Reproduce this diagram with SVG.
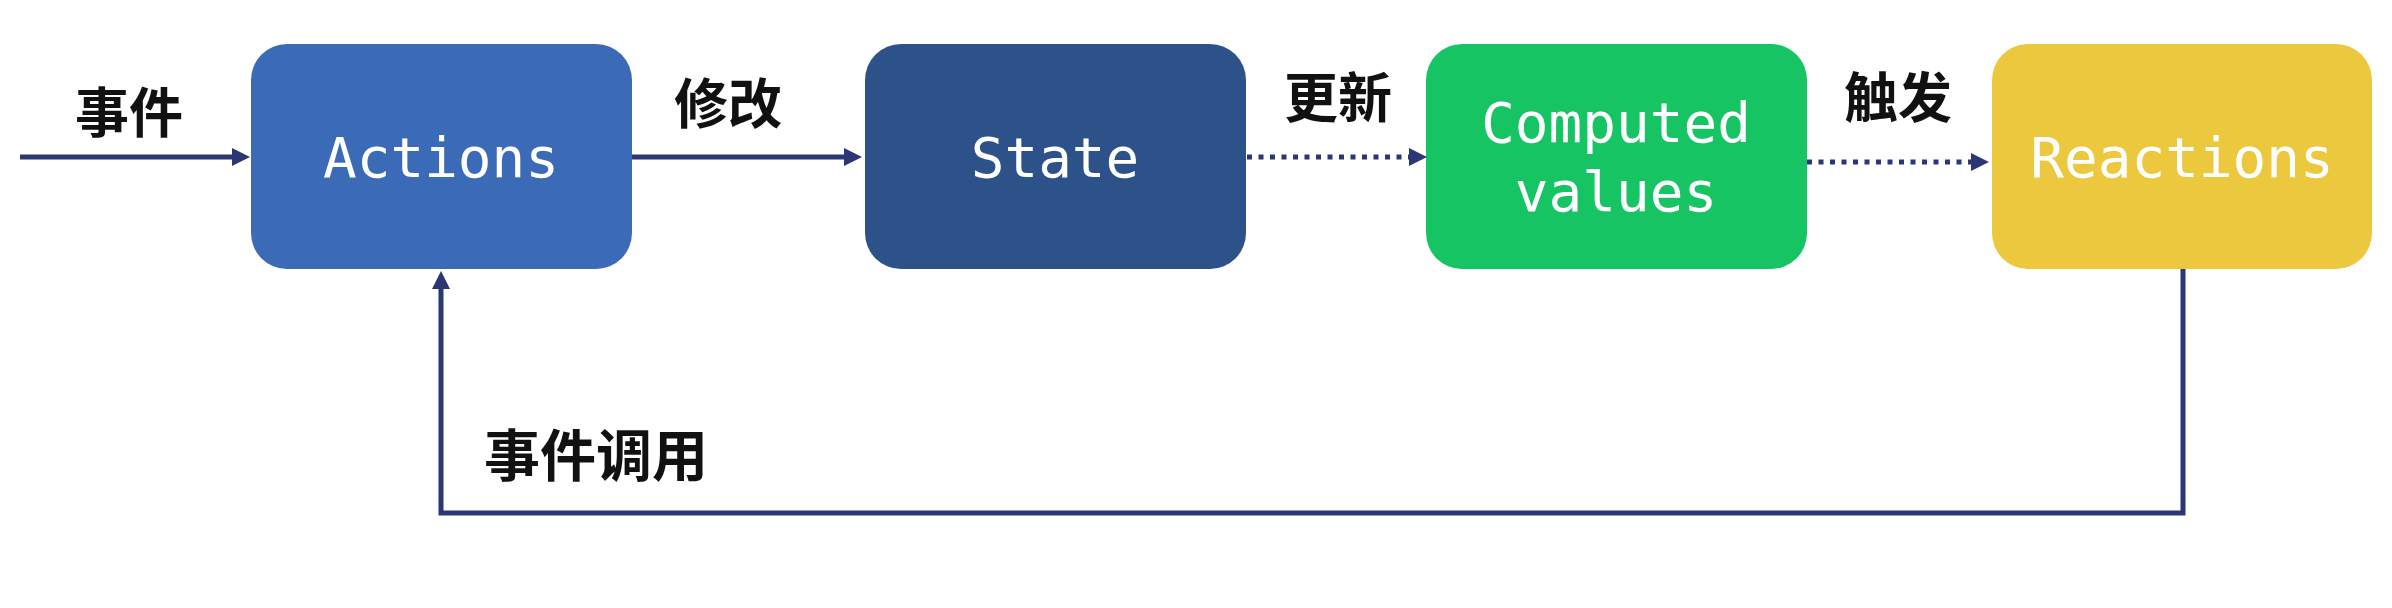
<svg xmlns="http://www.w3.org/2000/svg" width="2392" height="608" viewBox="0 0 2392 608">
<style>
.box-label{font-family:"DejaVu Sans Mono","Liberation Mono",monospace;font-size:56px;fill:#ffffff;text-anchor:middle}
.edge-label{font-family:"Noto Sans CJK SC","Noto Sans",sans-serif;font-size:54px;font-weight:700;fill:#111111;text-anchor:middle}
.conn{fill:none;stroke:#2B3675;stroke-width:5}
.dotted{stroke-dasharray:5 6.5}
</style>
<defs>
<marker id="arrow" viewBox="0 0 18 18" markerWidth="18" markerHeight="18" refX="6" refY="9" markerUnits="userSpaceOnUse" orient="auto">
<path d="M0,0 L18,9 L0,18 z" fill="#2B3675"/>
</marker>
</defs>
<rect width="2392" height="608" fill="#ffffff"/>
<g id="node-actions">
<rect x="251" y="44" width="381" height="225" rx="36" fill="#3B6BB6"/>
<text class="box-label" x="441" y="177">Actions</text>
</g>
<g id="node-state">
<rect x="865" y="44" width="381" height="225" rx="36" fill="#2D5189"/>
<text class="box-label" x="1055" y="177">State</text>
</g>
<g id="node-computed">
<rect x="1426" y="44" width="381" height="225" rx="36" fill="#17C463"/>
<text class="box-label" x="1616" y="142">Computed</text>
<text class="box-label" x="1616" y="211">values</text>
</g>
<g id="node-reactions">
<rect x="1992" y="44" width="380" height="225" rx="36" fill="#ECC83F"/>
<text class="box-label" x="2182" y="177">Reactions</text>
</g>
<g id="connectors">
<path class="conn" d="M20,157 H238" marker-end="url(#arrow)"/>
<path class="conn" d="M632,157 H850" marker-end="url(#arrow)"/>
<path class="conn dotted" d="M1247,157 H1415" marker-end="url(#arrow)"/>
<path class="conn dotted" d="M1807,162 H1977" marker-end="url(#arrow)"/>
<path class="conn" d="M2183,269 V513 H441 V283" marker-end="url(#arrow)"/>
</g>
<g id="labels">
<text class="edge-label" x="129" y="133">事件</text>
<text class="edge-label" x="728" y="124">修改</text>
<text class="edge-label" x="1338" y="118">更新</text>
<text class="edge-label" x="1898" y="118">触发</text>
<text class="edge-label" x="596" y="476" style="font-size:56px">事件调用</text>
</g>
</svg>
